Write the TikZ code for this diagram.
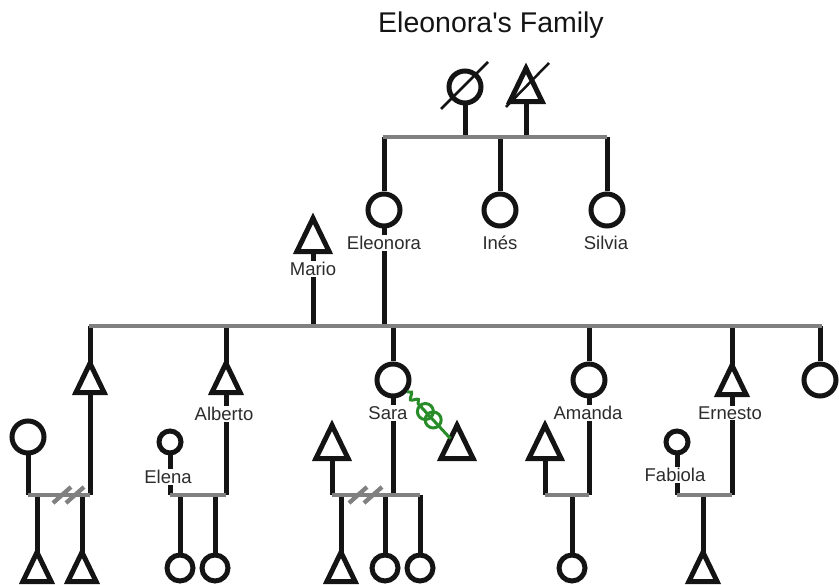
\documentclass[tikz,border=0pt]{standalone}
\usepackage{fontspec}
\setmainfont{Liberation Sans}
\newfontfamily\titlefont{Liberation Sans}
\usetikzlibrary{calc,decorations.pathmorphing}

\definecolor{ink}{RGB}{20,20,20}
\definecolor{bargray}{RGB}{128,128,128}
\definecolor{relgreen}{RGB}{40,140,40}

\tikzset{
  kin/.style={draw=ink, line width=5pt},
  bar/.style={draw=bargray, line width=4.3pt},
  female/.style={circle, kin, inner sep=0pt, minimum size=32pt},
  femsmall/.style={female, minimum size=22pt},
  femkid/.style={female, minimum size=26pt},
  male/.style={rectangle, inner sep=0pt, minimum width=28pt, minimum height=29pt,
    append after command={\pgfextra{\draw[kin] (\tikzlastnode.north) -- (\tikzlastnode.south east) -- (\tikzlastnode.south west) -- cycle;}}},
  bigmale/.style={male, minimum width=32pt, minimum height=33pt},
  lbl/.style={fill=white, inner sep=1pt, text=ink!90!white, font=\fontsize{18.5}{20}\selectfont},
  dead/.style={draw=ink, line width=2.5pt},
  divorce/.style={draw=bargray, line width=4.3pt},
  rel/.style={draw=relgreen, line width=3pt}
}

\begin{document}
\begin{tikzpicture}[x=1pt, y=-1pt]
\useasboundingbox (0,0) rectangle (839,585);

\node[anchor=base, font=\titlefont\fontsize{28.5}{32}\selectfont, text=ink] (title) at (491,33) {Eleonora's Family};

% grandparents
\node[female] (gm) at (465,87) {};
\node[bigmale] (gf) at (526,85) {};
\draw[dead] ($(gm.center)+(-24,22)$) -- ($(gm.center)+(23,-25)$);
\draw[dead] ($(gf.center)+(-20,22)$) -- ($(gf.center)+(23,-22)$);

% Eleonora and sisters
\node[female] (eleonora) at (384,210) {};
\node[female] (ines) at (500,210) {};
\node[female] (silvia) at (607,210) {};
\node[bigmale] (mario) at (313,235) {};

% children
\node[male] (sonA) at (90,378) {};
\node[male] (alberto) at (226,378) {};
\node[female] (sara) at (393,380) {};
\node[female] (amanda) at (589,380) {};
\node[male] (ernesto) at (732,380) {};
\node[female] (lastsis) at (820,380) {};

% partners
\node[female] (wifeA) at (28,437) {};
\node[femsmall] (elena) at (170,442) {};
\node[bigmale] (exC) at (332,442) {};
\node[bigmale] (partC) at (457,442) {};
\node[bigmale] (partD) at (545,442) {};
\node[femsmall] (fabiola) at (677,442) {};

% grandchildren
\node[male] (kidA1) at (37,567) {};
\node[male] (kidA2) at (82,567) {};
\node[femkid] (kidB1) at (180,568) {};
\node[femkid] (kidB2) at (215,568) {};
\node[male] (kidC1) at (341,567) {};
\node[femkid] (kidC2) at (385,568) {};
\node[femkid] (kidC3) at (420,568) {};
\node[femkid] (kidD) at (572,568) {};
\node[male] (kidE) at (703,567) {};

% bar ends
\coordinate (topL) at (383,137);
\coordinate (topR) at (607,137);
\coordinate (mainL) at (89,326);
\coordinate (mainR) at (822,326);
\coordinate (barA) at (28,495);
\coordinate (barAr) at (90,495);
\coordinate (barB) at (170,495);
\coordinate (barBr) at (226,495);
\coordinate (barC) at (332,495);
\coordinate (barCr) at (420,495);
\coordinate (barD) at (545,495);
\coordinate (barDr) at (589,495);
\coordinate (barE) at (677,495);
\coordinate (barEr) at (732,495);

% lines of descent
\draw[kin] (gm.south) -- (gm |- topL);
\draw[kin] (gf.south) -- (gf |- topL);
\foreach \p in {eleonora,ines,silvia}
  \draw[kin] (\p.north) -- (\p |- topL);
\draw[kin] (mario.south) -- (mario |- mainL);
\draw[kin] (eleonora.south) -- (eleonora |- mainL);
\foreach \p in {sonA,alberto,sara,amanda,ernesto,lastsis}
  \draw[kin] (\p.north) -- (\p |- mainL);
\foreach \p in {sonA,wifeA,alberto,elena,sara,exC,amanda,partD,ernesto,fabiola}
  \draw[kin] (\p.south) -- (\p |- barA);
\foreach \p in {kidA1,kidA2,kidB1,kidB2,kidC1,kidC2,kidC3,kidD,kidE}
  \draw[kin] (\p.north) -- (\p |- barA);

% sibship and couple bars
\draw[bar] (topL) -- (topR);
\draw[bar] (mainL) -- (mainR);
\draw[bar] (barA) -- (barAr);
\draw[bar] (barB) -- (barBr);
\draw[bar] (barC) -- (barCr);
\draw[bar] (barD) -- (barDr);
\draw[bar] (barE) -- (barEr);
\foreach \x in {62,75,358,373}
  \draw[divorce] (\x-9,503) -- (\x+9,487);

% names
\node[lbl] (eleonoraL) at (384,243) {Eleonora};
\node[lbl] (inesL) at (500,243) {Inés};
\node[lbl] (silviaL) at (606,243) {Silvia};
\node[lbl] (marioL) at (313,269) {Mario};
\node[lbl] (albertoL) at (224,414) {Alberto};
\node[lbl] (elenaL) at (168,477) {Elena};
\node[lbl] (saraL) at (388,413) {Sara};
\node[lbl] (amandaL) at (588,413) {Amanda};
\node[lbl] (ernestoL) at (730,413) {Ernesto};
\node[lbl] (fabiolaL) at (675,475) {Fabiola};

% Sara and partner
\coordinate (relA) at (sara.-40);
\coordinate (relB) at ($(partC.north)!0.4!(partC.south west)$);
\draw[rel, decorate, decoration={snake, amplitude=3pt, segment length=10pt}]
  (relA) -- ($(relA)!0.3!(relB)$);
\draw[rel] ($(relA)!0.3!(relB)$) -- (relB);
\draw[rel] ($(relA)!0.42!(relB)$) circle[radius=8pt];
\draw[rel] ($(relA)!0.6!(relB)$) circle[radius=8pt];
\end{tikzpicture}
\end{document}
